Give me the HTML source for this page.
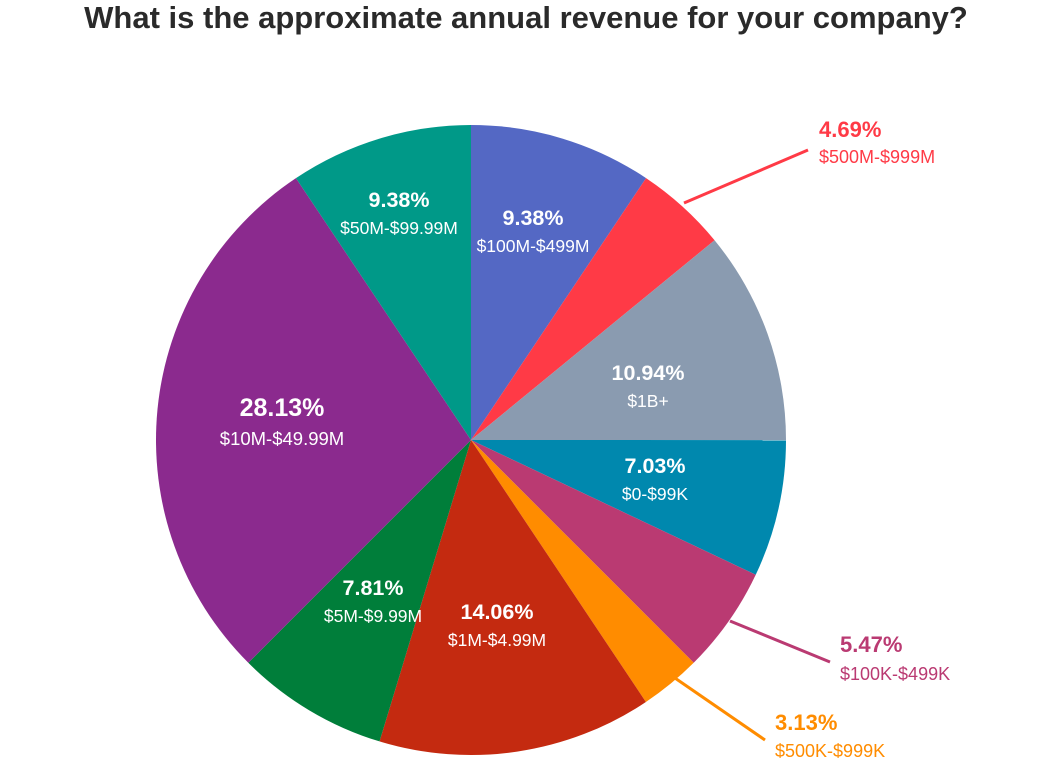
<!DOCTYPE html>
<html><head><meta charset="utf-8"><style>
body{margin:0;background:#fff;}
svg{display:block;font-family:"Liberation Sans",Arial,sans-serif;}
</style></head><body>
<svg id="s" width="1048" height="763" viewBox="0 0 1048 763">
<text x="526" y="28" text-anchor="middle" font-size="31" font-weight="bold" fill="#2a2a2a">What is the approximate annual revenue for your company?</text>
<g id="pie"></g>
<g font-size="17.5" fill="#fff" text-anchor="middle">
<text x="533" y="225" font-weight="bold" font-size="21.5">9.38%</text><text x="533" y="252">$100M-$499M</text>
<text x="399" y="207" font-weight="bold" font-size="21.5">9.38%</text><text x="399" y="234">$50M-$99.99M</text>
<text x="648" y="380" font-weight="bold" font-size="21.5">10.94%</text><text x="648" y="407">$1B+</text>
<text x="655" y="473" font-weight="bold" font-size="21.5">7.03%</text><text x="655" y="500">$0-$99K</text>
<text x="282" y="416" font-weight="bold" font-size="25">28.13%</text><text x="282" y="445" font-size="18.5">$10M-$49.99M</text>
<text x="373" y="595" font-weight="bold" font-size="21.5">7.81%</text><text x="373" y="622">$5M-$9.99M</text>
<text x="497" y="619" font-weight="bold" font-size="21.5">14.06%</text><text x="497" y="646">$1M-$4.99M</text>
</g>
<g font-size="18">
<line x1="684" y1="203" x2="808" y2="150" stroke="#FF3A46" stroke-width="3"/>
<text x="819" y="137" fill="#FF3A46" font-weight="bold" font-size="22">4.69%</text><text x="819" y="163" fill="#FF3A46">$500M-$999M</text>
<line x1="730" y1="621" x2="830" y2="662" stroke="#BA3A72" stroke-width="3"/>
<text x="840" y="652" fill="#BA3A72" font-weight="bold" font-size="22">5.47%</text><text x="840" y="680" fill="#BA3A72">$100K-$499K</text>
<line x1="672" y1="676" x2="765" y2="740" stroke="#FF8C00" stroke-width="3"/>
<text x="775" y="730" fill="#FF8C00" font-weight="bold" font-size="22">3.13%</text><text x="775" y="757" fill="#FF8C00">$500K-$999K</text>
</g>
</svg>
<script>
var d=[[9.38,"#5468C4"],[4.69,"#FF3A46"],[10.94,"#8A9BB0"],[7.03,"#0088AE"],[5.47,"#BA3A72"],[3.13,"#FF8C00"],[14.06,"#C42A10"],[7.81,"#007E3A"],[28.13,"#8B2A8E"],[9.38,"#009988"]];
var cx=471,cy=440,r=315,a=0,tot=0,h="";d.forEach(function(e){tot+=e[0];});
d.forEach(function(e){var a2=a+e[0]/tot*2*Math.PI;
var x1=cx+r*Math.sin(a),y1=cy-r*Math.cos(a),x2=cx+r*Math.sin(a2),y2=cy-r*Math.cos(a2);
h+='<path d="M'+cx+' '+cy+'L'+x1+' '+y1+'A'+r+' '+r+' 0 '+((a2-a)>Math.PI?1:0)+' 1 '+x2+' '+y2+'Z" fill="'+e[1]+'"/>';a=a2;});
document.getElementById("pie").innerHTML=h;
</script>
</body></html>
